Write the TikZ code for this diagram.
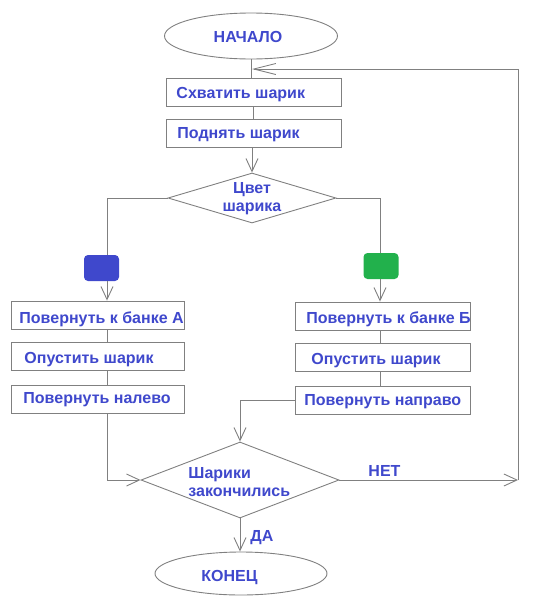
\documentclass[tikz,border=0pt]{standalone}
\usepackage{fontspec}
\setmainfont{Liberation Sans}
\usetikzlibrary{shapes.geometric,arrows.meta}
\definecolor{ink}{RGB}{63,72,204}
\definecolor{wire}{RGB}{128,128,128}
\definecolor{ballA}{RGB}{63,72,204}
\definecolor{ballB}{RGB}{34,177,76}
\tikzset{
  font={\fontsize{16pt}{18pt}\selectfont\bfseries}}

\begin{document}
\begin{tikzpicture}[x=1pt,y=-1pt,color=wire,line width=0.9pt]
\tikzstyle{every node}+=[inner sep=0pt]
\tikzstyle{box}=[draw, rectangle, minimum width=175pt, minimum height=28pt]
\tikzstyle{oval}=[draw, ellipse]
\tikzstyle{dec}=[draw, diamond]
\tikzstyle{ball}=[rectangle, rounded corners=4pt, minimum width=35pt, minimum height=26pt]
\tikzstyle{txt}=[text=ink, anchor=base west]
\tikzstyle{arr}=[-{Straight Barb[length=13pt,width=12pt]}]
\tikzstyle{arrlong}=[-{Straight Barb[length=22pt,width=11pt]}]
\useasboundingbox (0,0) rectangle (543,611);
\node[oval, minimum width=173pt, minimum height=46pt] (start) at (251,36) {};
\node[txt, anchor=base] (startT) at (248,42) {НАЧАЛО};
\node[box] (grab) at (253.5,92.5) {};
\node[txt] (grabT) at (176,98) {Схватить шарик};
\node[box] (lift) at (253.5,133) {};
\node[txt] (liftT) at (177,138) {Поднять шарик};
\node[dec, minimum width=168pt, minimum height=50pt] (color) at (252,198) {};
\node[txt, anchor=base, align=center] (colorT) at (252,211) {Цвет\\шарика};
\node[ball, fill=ballA] (blueA) at (101.5,268) {};
\node[ball, fill=ballB] (greenB) at (381,266) {};
\node[box, minimum width=173pt] (turnA) at (98.3,315) {};
\node[txt] (turnAT) at (19,323) {Повернуть к банке А};
\node[box, minimum width=173pt] (dropA) at (98.3,356.5) {};
\node[txt] (dropAT) at (24,363.5) {Опустить шарик};
\node[box, minimum width=173pt] (leftA) at (98.3,399) {};
\node[txt] (leftAT) at (23,403.5) {Повернуть налево};
\node[box] (turnB) at (383.3,316) {};
\node[txt] (turnBT) at (306,323.5) {Повернуть к банке Б};
\node[box] (dropB) at (383.3,357) {};
\node[txt] (dropBT) at (311,364.5) {Опустить шарик};
\node[box] (rightB) at (383.3,400) {};
\node[txt] (rightBT) at (304,405.5) {Повернуть направо};
\node[dec, minimum width=198pt, minimum height=76pt] (done) at (240,480) {};
\node[txt, align=left] (doneT) at (188,496) {Шарики\\закончились};
\node[txt] (noT) at (368,476) {НЕТ};
\node[txt] (yesT) at (250,541) {ДА};
\node[oval, minimum width=172pt, minimum height=43pt] (stop) at (241,573.5) {};
\node[txt, anchor=base] (stopT) at (229.5,581.5) {КОНЕЦ};
\coordinate (laneA) at (107,0);
\coordinate (laneB) at (380,0);
\coordinate (back) at (518,480);
\coordinate (join) at (252,69);
\draw (start.south) -- (start.south |- grab.north);
\draw (grab.south -| lift.north) -- (lift.north);
\draw[arr] (done.east) -- (back);
\draw[arrlong] (back) |- (join);
\draw[arr] (lift.south -| color.north) -- (color.north);
\draw (color.west) -| (laneA |- blueA.north);
\draw (color.east) -| (laneB |- greenB.north);
\draw[arr] (laneA |- blueA.south) -- (laneA |- turnA.north);
\draw (laneA |- turnA.south) -- (laneA |- dropA.north);
\draw (laneA |- dropA.south) -- (laneA |- leftA.north);
\draw[arr] (laneA |- leftA.south) |- (done.west);
\draw[arr] (laneB |- greenB.south) -- (laneB |- turnB.north);
\draw (laneB |- turnB.south) -- (laneB |- dropB.north);
\draw (laneB |- dropB.south) -- (laneB |- rightB.north);
\draw[arr] (rightB.west) -| (done.north);
\draw[arr] (done.south) -- (done.south |- stop.north);
\end{tikzpicture}
\end{document}
